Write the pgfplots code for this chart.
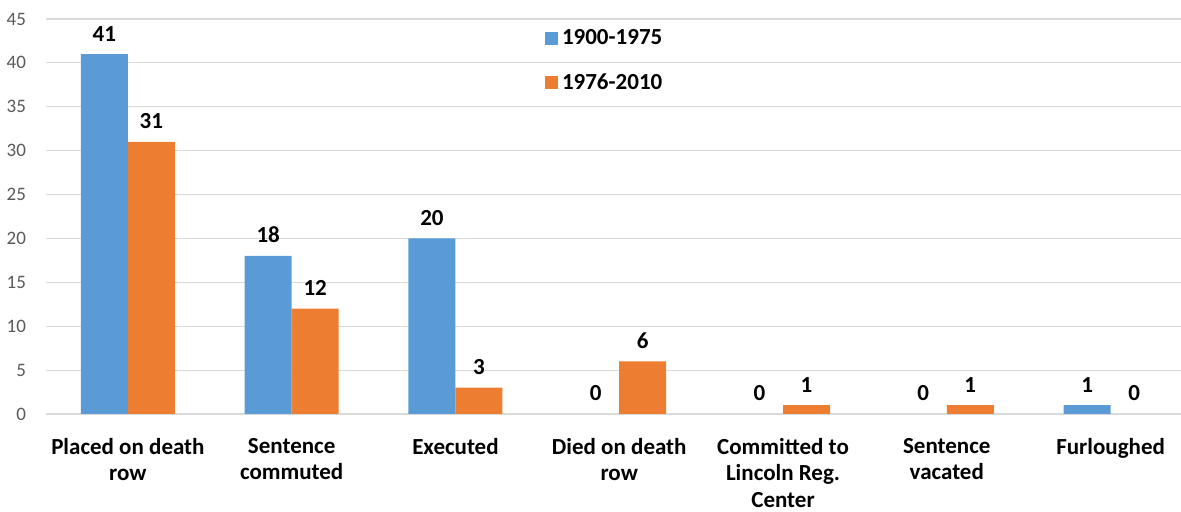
\documentclass[border=0pt]{standalone}
\usepackage{pgfplots}
\pgfplotsset{compat=1.18}
\usepackage{fontspec}
\setmainfont{Carlito}
\definecolor{cOld}{HTML}{5B9BD5}
\definecolor{cNew}{HTML}{ED7D31}
\definecolor{cGrid}{HTML}{D9D9D9}
\definecolor{cTick}{HTML}{595959}

\begin{document}
\begin{tikzpicture}
\begin{axis}[
  scale only axis, width=567.5pt, height=197.5pt,
  at={(0,0)}, anchor=south west,
  ybar, bar width=23.5pt,
  ymin=0, ymax=45, ytick={0,5,...,45},
  xmin=-0.5, xmax=6.43,
  xtick={0,...,6},
  xticklabels={{Placed on death\\row},{Sentence\\commuted},{Executed},{Died on death\\row},{Committed to\\Lincoln Reg.\\Center},{Sentence\\vacated},{Furloughed}},
  xticklabel style={align=center, font=\bfseries\fontsize{11.5}{13.3}\selectfont, yshift=-8.5pt},
  yticklabel style={font=\fontsize{9.5}{11}\selectfont, text=cTick, xshift=-6.5pt},
  /pgf/number format/assume math mode=true,
  major tick length=0pt,
  axis line style={draw=none},
  ymajorgrids, grid style={cGrid, line width=0.6pt},
  clip=false,
  nodes near coords,
  every node near coord/.append style={font=\bfseries\fontsize{11.5}{13}\selectfont, text=black, yshift=3pt},
  legend style={at={(0.434,0.995)}, anchor=north west, draw=none, fill=none,
    font=\bfseries\fontsize{11.5}{13}\selectfont, row sep=9pt},
  legend cell align=left,
  legend image code/.code={\path[#1, draw=none] (0pt,-3.25pt) rectangle (6.5pt,3.25pt);},
]
\addplot[bar shift=-11.75pt, fill=cOld, draw=none]
  coordinates {(0,41) (1,18) (2,20) (6,1)};
\addplot[bar shift=11.75pt, fill=cNew, draw=none]
  coordinates {(0,31) (1,12) (2,3) (3,6) (4,1) (5,1)};
\legend{1900-1975, 1976-2010}
% zero values: labels only
\addplot[forget plot, bar shift=-11.75pt, fill=none, draw=none]
  coordinates {(3,0) (4,0) (5,0)};
\addplot[forget plot, bar shift=11.75pt, fill=none, draw=none]
  coordinates {(6,0)};
\end{axis}
\pgfresetboundingbox
\path (-23pt,-49pt) rectangle (567.5pt,207pt);
\end{tikzpicture}
\end{document}
